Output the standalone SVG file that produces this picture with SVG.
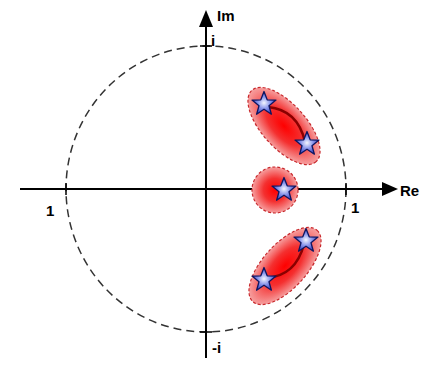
<svg xmlns="http://www.w3.org/2000/svg" width="426" height="371" viewBox="0 0 426 371">
<defs>
<radialGradient id="blob" cx="50%" cy="50%" r="50%">
<stop offset="0" stop-color="#ff0000"/>
<stop offset="0.5" stop-color="#f43030"/>
<stop offset="1" stop-color="#f6a0a0"/>
</radialGradient>
<radialGradient id="starg" cx="50%" cy="50%" r="55%">
<stop offset="0" stop-color="#f4f6ff"/>
<stop offset="0.45" stop-color="#8c98ec"/>
<stop offset="1" stop-color="#2a38c0"/>
</radialGradient>
<path id="star" d="M0,-12.5 L3.2,-4.2 L12,-3.9 L5,1.7 L7.4,10.2 L0,5.2 L-7.4,10.2 L-5,1.7 L-12,-3.9 L-3.2,-4.2 Z"/>
</defs>
<style>
.axis{stroke:#000;stroke-width:2;fill:none}
.head{fill:#000}
.unit{fill:none;stroke:#333;stroke-width:1.5;stroke-dasharray:8 5}
.tick{stroke:#000;stroke-width:1.5}
.blob{fill:url(#blob);stroke:#c8282c;stroke-width:1.2;stroke-dasharray:3 2}
.arc{fill:none;stroke:#8a0000;stroke-width:2.5}
.star{fill:url(#starg);stroke:#0f1660;stroke-width:1.3;stroke-linejoin:round}
text{font-family:"Liberation Sans",Arial,sans-serif;font-weight:bold;font-size:15px;fill:#000}
</style>
<g id="unit-circle"><ellipse class="unit" cx="206" cy="189" rx="140" ry="143"/></g>
<g id="axes">
<line class="axis" x1="20" y1="189" x2="384" y2="189"/>
<polygon class="head" points="398,189 382,182 382,196"/>
<line class="axis" x1="206" y1="358" x2="206" y2="26"/>
<polygon class="head" points="206,10 199,27 213,27"/>
<line class="tick" x1="66" y1="183" x2="66" y2="195"/>
<line class="tick" x1="346" y1="183" x2="346" y2="195"/>
<line class="tick" x1="200" y1="46" x2="212" y2="46"/>
<line class="tick" x1="200" y1="332" x2="212" y2="332"/>
</g>
<g id="upper-cluster">
<ellipse class="blob" cx="284" cy="126" rx="48" ry="22" transform="rotate(48 284 126)"/>
<path class="arc" d="M268,107 Q298,110 305,142"/>
<use href="#star" class="star" x="264" y="104"/>
<use href="#star" class="star" x="307" y="144"/>
</g>
<g id="middle-cluster">
<circle class="blob" cx="275" cy="190" r="23"/>
<use href="#star" class="star" x="284" y="190"/>
</g>
<g id="lower-cluster">
<ellipse class="blob" cx="285" cy="266" rx="48" ry="22" transform="rotate(-48 285 266)"/>
<path class="arc" d="M266,278 Q296,276 304,244"/>
<use href="#star" class="star" x="306" y="241"/>
<use href="#star" class="star" x="264" y="280"/>
</g>
<g id="labels">
<text x="217" y="21">Im</text>
<text x="211" y="46">i</text>
<text x="400" y="196">Re</text>
<text x="46" y="216">1</text>
<text x="351" y="213">1</text>
<text x="212" y="353">-i</text>
</g>
</svg>
